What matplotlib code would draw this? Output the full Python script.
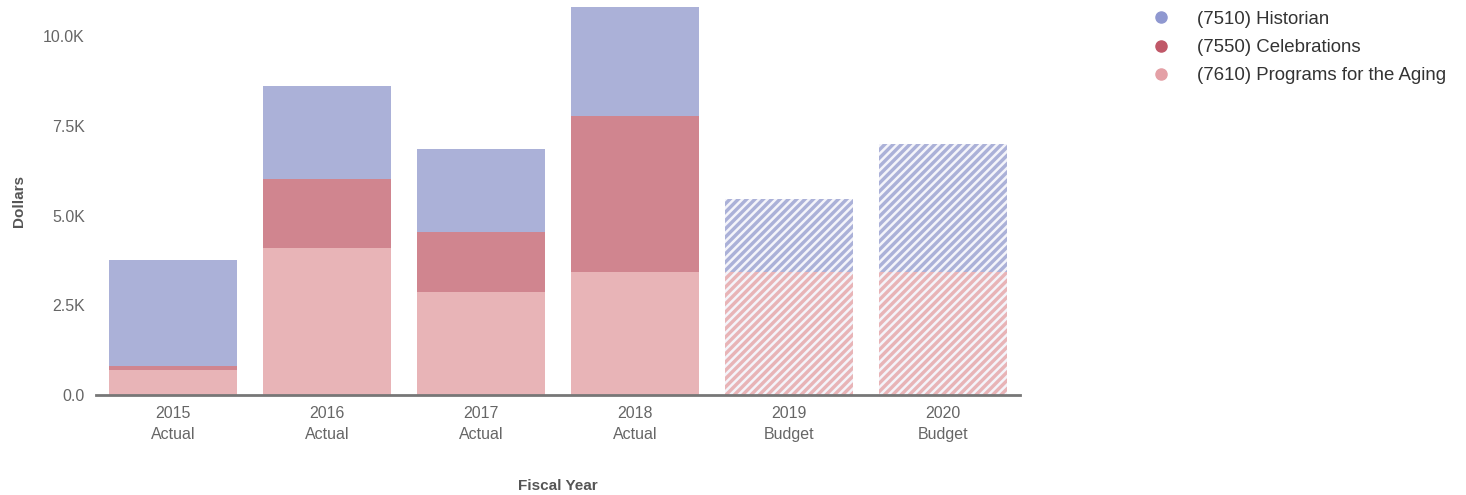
import matplotlib.pyplot as plt
import numpy as np
from matplotlib.lines import Line2D

plt.rcParams['font.family'] = ['Liberation Sans', 'DejaVu Sans']
plt.rcParams['hatch.linewidth'] = 1.8

years = ['2015', '2016', '2017', '2018', '2019', '2020']
kinds = ['Actual', 'Actual', 'Actual', 'Actual', 'Budget', 'Budget']

# dollars, in thousands
aging = [0.70, 4.09, 2.87, 3.43, 3.43, 3.43]
celebrations = [0.12, 1.93, 1.67, 4.34, 0.0, 0.0]
historian = [2.94, 2.59, 2.31, 3.04, 2.03, 3.56]

series = ['(7510) Historian', '(7550) Celebrations', '(7610) Programs for the Aging']
bar_colors = ['#abb1d8', '#d0858f', '#e8b4b7']
dot_colors = ['#8f98d0', '#c05868', '#e4a0a6']

fig = plt.figure(figsize=(14.66, 4.95), dpi=100)
ax = fig.add_axes([0.0655, 0.202, 0.6305, 0.784])

x = np.arange(len(years))
bottom = np.zeros(len(years))
stack = [(aging, bar_colors[2]), (celebrations, bar_colors[1]), (historian, bar_colors[0])]
for vals, col in stack:
    vals = np.array(vals)
    for i in range(len(years)):
        if vals[i] <= 0:
            continue
        if kinds[i] == 'Budget':
            ax.bar(x[i], vals[i], 0.83, bottom=bottom[i], color=col,
                   hatch='////', edgecolor='#f4f4fa', linewidth=0)
        else:
            ax.bar(x[i], vals[i], 0.83, bottom=bottom[i], color=col, linewidth=0)
    bottom += vals

ax.set_xlim(-0.5, len(years) - 0.5)
ax.set_ylim(0, 10.81)
ax.set_yticks([0, 2.5, 5.0, 7.5, 10.0])
ax.set_yticklabels(['0.0', '2.5K', '5.0K', '7.5K', '10.0K'])
ax.set_xticks(x)
ax.set_xticklabels([f'{y}\n{k}' for y, k in zip(years, kinds)], linespacing=1.45)
ax.tick_params(length=0, labelsize=11.5, colors='#666666', pad=8)
ax.tick_params(axis='y', pad=8)

for s in ['top', 'right', 'left']:
    ax.spines[s].set_visible(False)
ax.spines['bottom'].set_color('#777777')
ax.spines['bottom'].set_linewidth(2)

ax.set_ylabel('Dollars', fontsize=11, fontweight='bold', color='#555555', labelpad=12)
ax.set_xlabel('Fiscal Year', fontsize=11, fontweight='bold', color='#555555', labelpad=27)

handles = [Line2D([], [], marker='o', linestyle='none', markersize=8,
                  markerfacecolor=c, markeredgecolor=c) for c in dot_colors]
fig.legend(handles, series, loc='upper left', bbox_to_anchor=(0.768, 1.012),
           frameon=False, fontsize=13.4, labelcolor='#333333',
           handletextpad=0.9, labelspacing=0.6)

fig.savefig('out.png', dpi=100)
